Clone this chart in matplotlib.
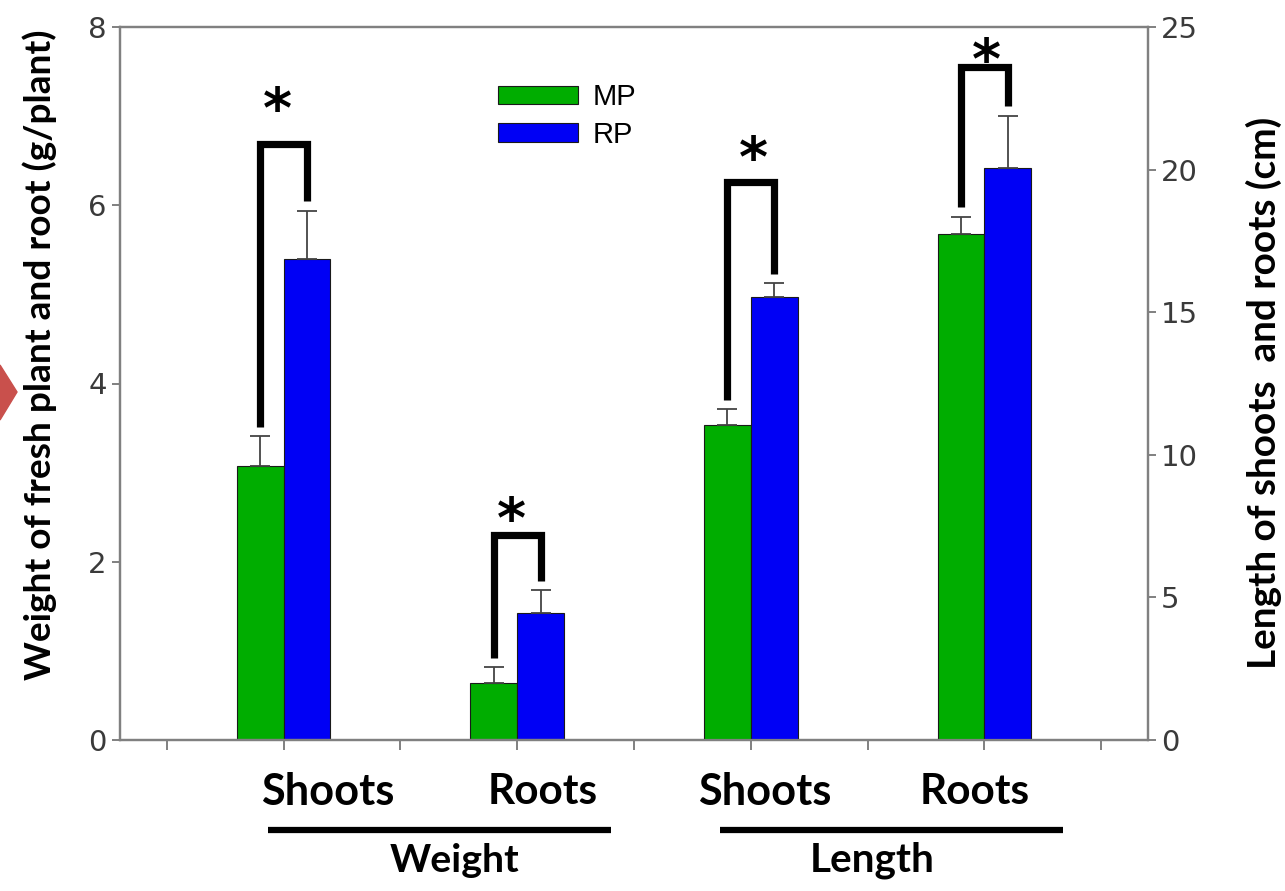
import matplotlib
matplotlib.use("Agg")
import matplotlib.pyplot as plt
from matplotlib.patches import Polygon
import numpy as np

# values
categories = ["Shoots", "Roots", "Shoots", "Roots"]
groups = ["Weight", "Length"]
series = ["MP", "RP"]

weight_mp = [3.07, 0.64]
weight_mp_err = [0.34, 0.18]
weight_rp = [5.40, 1.42]
weight_rp_err = [0.54, 0.26]

length_mp = [11.04, 17.74]
length_mp_err = [0.56, 0.61]
length_rp = [15.54, 20.07]
length_rp_err = [0.47, 1.82]

# significance brackets (top level, star level) in each axis' units
weight_bracket = [6.69, 2.30]
weight_star = [7.05, 2.45]
length_bracket = [19.58, 23.61]
length_star = [20.3, 23.75]

GREEN = "#00AD00"
BLUE = "#0000F5"
SPINE = "#808080"
TICKTXT = "#3a3a3a"
LABEL_FONT = "Lato"
NUM_FONT = "DejaVu Sans"

W, H = 1285, 891
fig = plt.figure(figsize=(W / 100, H / 100), dpi=100)
ax = fig.add_axes([120 / W, 1 - 740 / H, 1028 / W, 713 / H])
ax2 = ax.twinx()

pos = np.array([1, 3, 5, 7])
w = 0.4
ax.set_xlim(-0.4, 8.4)
ax.set_ylim(0, 8)
ax2.set_ylim(0, 25)

err_kw = dict(ecolor="#444444", elinewidth=1.3, capsize=7, capthick=1.3)


def draw(axis, x, mp, mp_err, rp, rp_err):
    b1 = axis.bar(x - w / 2, mp, w, color=GREEN, edgecolor="#1a1a1a", linewidth=0.8,
                  yerr=[np.zeros(len(mp)), mp_err], error_kw=err_kw, label=series[0], zorder=2)
    b2 = axis.bar(x + w / 2, rp, w, color=BLUE, edgecolor="#1a1a1a", linewidth=0.8,
                  yerr=[np.zeros(len(rp)), rp_err], error_kw=err_kw, label=series[1], zorder=2)
    return b1, b2


b1, b2 = draw(ax, pos[:2], weight_mp, weight_mp_err, weight_rp, weight_rp_err)
draw(ax2, pos[2:], length_mp, length_mp_err, length_rp, length_rp_err)


def brackets(axis, x, mp, mp_err, rp, rp_err, tops, stars, dx):
    lo, hi = axis.get_ylim()
    pad = 0.013 * (hi - lo)
    for i in range(len(x)):
        l = x[i] - w / 2
        r = x[i] + w / 2
        y1 = mp[i] + mp_err[i] + pad
        y2 = rp[i] + rp_err[i] + pad
        axis.plot([l, l, r, r], [y1, tops[i], tops[i], y2], color="black", lw=5.2,
                  solid_joinstyle="miter", solid_capstyle="butt", zorder=3, clip_on=False)
        axis.text(x[i] + dx, stars[i], "*", ha="center", va="center", fontsize=40,
                  fontweight="bold", family="DejaVu Sans", zorder=4)


brackets(ax, pos[:2], weight_mp, weight_mp_err, weight_rp, weight_rp_err,
         weight_bracket, weight_star, -0.05)
brackets(ax2, pos[2:], length_mp, length_mp_err, length_rp, length_rp_err,
         length_bracket, length_star, 0.02)

# axes styling
for a in (ax, ax2):
    for s in a.spines.values():
        s.set_color(SPINE)
        s.set_linewidth(1.6)
    a.tick_params(colors=SPINE, labelcolor=TICKTXT, width=1.4, length=6, labelsize=21)

ax.set_yticks([0, 2, 4, 6, 8])
ax2.set_yticks([0, 5, 10, 15, 20, 25])
ax.set_xticks(np.arange(0, 9))
ax.set_xticklabels([])
ax.tick_params(axis="x", length=7)
for lbl in ax.get_yticklabels() + ax2.get_yticklabels():
    lbl.set_family(NUM_FONT)

renderer = fig.canvas.get_renderer()


def fitted_text(x, y, s, length, size, **kw):
    # scale the font so the text spans `length` pixels along its run
    t = fig.text(x / W, 1 - y / H, s, ha="center", va="center", family=LABEL_FONT,
                 fontweight="bold", fontsize=size, **kw)
    bb = t.get_window_extent(renderer)
    cur = bb.height if kw.get("rotation") == 90 else bb.width
    t.set_fontsize(size * length / cur)
    return t


fitted_text(40, 355, "Weight of fresh plant and root (g/plant)", 650, 24, rotation=90)
fitted_text(1264, 393, "Length of shoots  and roots (cm)", 555, 24, rotation=90)

# category and group labels below the axis
cat_x = [328, 543, 765, 975]
for x, c in zip(cat_x, categories):
    fitted_text(x, 792, c, 133 if c == "Shoots" else 110, 30)
for x, g, ln in zip([455, 872], groups, [130, 125]):
    fitted_text(x, 860, g, ln, 28)

xt = ax.get_xaxis_transform()
for x0, x1 in [(pos[0] - 0.13, pos[1] + 0.8), (pos[2] - 0.26, pos[3] + 0.67)]:
    ax.plot([x0, x1], [-0.126, -0.126], transform=xt, color="black", lw=4.5, clip_on=False,
            solid_capstyle="butt")

leg = ax.legend(handles=[b1, b2], loc="upper left", bbox_to_anchor=(0.342, 0.958),
                frameon=False, prop={"family": "Liberation Sans", "size": 21},
                handlelength=2.75, handleheight=0.6, labelspacing=0.32, handletextpad=0.5)

# red marker at the left edge of the screenshot
fig.patches.append(Polygon([[0, 1 - 365 / H], [17 / W, 1 - 392 / H], [0, 1 - 420 / H]],
                           closed=True, transform=fig.transFigure, color="#C9504C", figure=fig))

fig.savefig("out.png", dpi=100, facecolor="white")
